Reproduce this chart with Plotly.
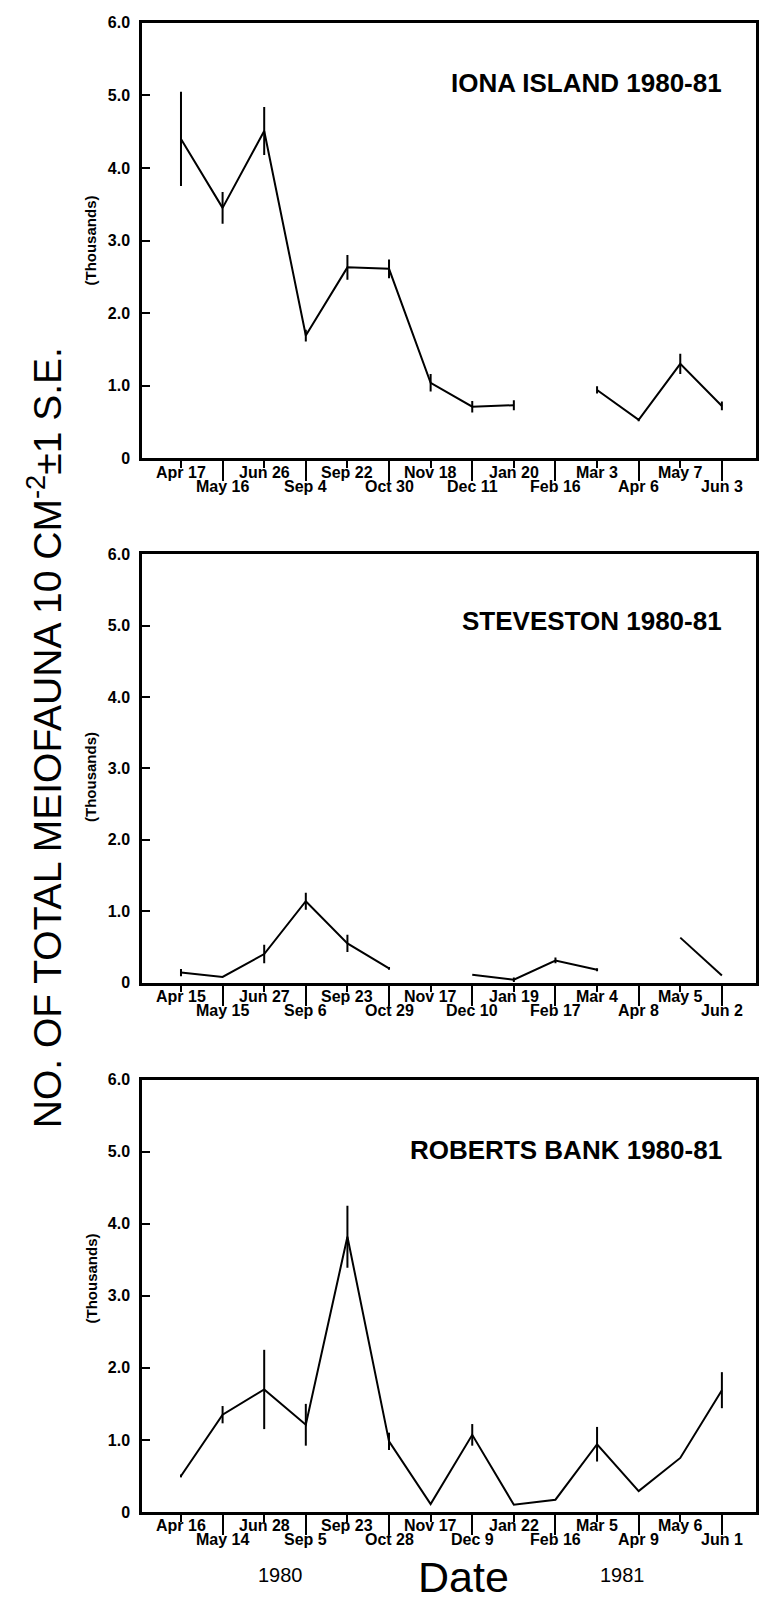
import plotly.graph_objects as go

# ---------------- data ----------------
dates_iona = ["Apr 17", "May 16", "Jun 26", "Sep 4", "Sep 22", "Oct 30", "Nov 18",
              "Dec 11", "Jan 20", "Feb 16", "Mar 3", "Apr 6", "May 7", "Jun 3"]
iona = [4.40, 3.45, 4.51, 1.69, 2.63, 2.61, 1.04, 0.71, 0.73, None, 0.94, 0.53, 1.30, 0.72]
iona_se = [0.65, 0.22, 0.33, 0.08, 0.17, 0.13, 0.12, 0.08, 0.07, 0, 0.05, 0.02, 0.14, 0.06]

dates_stev = ["Apr 15", "May 15", "Jun 27", "Sep 6", "Sep 23", "Oct 29", "Nov 17",
              "Dec 10", "Jan 19", "Feb 17", "Mar 4", "Apr 8", "May 5", "Jun 2"]
stev = [0.14, 0.08, 0.40, 1.14, 0.55, 0.20, None, 0.11, 0.04, 0.31, 0.18, None, 0.63, 0.10]
stev_se = [0.05, 0, 0.13, 0.12, 0.12, 0.02, 0, 0, 0.03, 0.04, 0.02, 0, 0, 0]

dates_rob = ["Apr 16", "May 14", "Jun 28", "Sep 5", "Sep 23", "Oct 28", "Nov 17",
             "Dec 9", "Jan 22", "Feb 16", "Mar 5", "Apr 9", "May 6", "Jun 1"]
rob = [0.50, 1.35, 1.70, 1.21, 3.82, 0.98, 0.11, 1.07, 0.10, 0.17, 0.94, 0.29, 0.75, 1.69]
rob_se = [0.02, 0.12, 0.55, 0.29, 0.43, 0.12, 0, 0.15, 0, 0, 0.24, 0, 0, 0.25]

titles = ["IONA ISLAND 1980-81", "STEVESTON 1980-81", "ROBERTS BANK 1980-81"]
y_ticks = [0, 1, 2, 3, 4, 5, 6]
y_tick_text = ["0", "1.0", "2.0", "3.0", "4.0", "5.0", "6.0"]

panels = [(dates_iona, iona, iona_se), (dates_stev, stev, stev_se), (dates_rob, rob, rob_se)]

# ---------------- layout geometry ----------------
W, H = 759, 1612
FONT = "Liberation Sans, Arial, Helvetica, sans-serif"
x_dom = [142 / W, 756 / W]
x_range = [-0.937, 13.82]
panel_px = [(15, 455), (552, 985), (1083, 1520)]   # top, bottom in px
title_px = [76, 620, 1154]
thousands_pos = [0.5, 0.48, 0.54]
LBL = dict(family=FONT, size=16, color="black", weight=700)

fig = go.Figure()
annotations = []

for i, (dates, vals, se) in enumerate(panels):
    n = i + 1
    xa = "x" if n == 1 else f"x{n}"
    ya = "y" if n == 1 else f"y{n}"
    xo = f"x{n + 3}"          # overlay axis carrying the long ticks
    fig.add_trace(go.Scatter(
        x=dates, y=vals, mode="lines",
        line=dict(color="black", width=2),
        error_y=dict(type="data", array=se, visible=True, width=0,
                     thickness=2, color="black"),
        connectgaps=False, showlegend=False, xaxis=xa, yaxis=ya,
        hoverinfo="x+y"))
    # empty trace so the overlay axis is drawn
    fig.add_trace(go.Scatter(x=[0], y=[None], mode="lines", showlegend=False,
                             xaxis=xo, yaxis=ya, hoverinfo="skip"))

    top, bot = panel_px[i]
    xkey = "xaxis" if n == 1 else f"xaxis{n}"
    ykey = "yaxis" if n == 1 else f"yaxis{n}"
    okey = f"xaxis{n + 3}"
    fig.layout[xkey] = dict(
        domain=x_dom, anchor=ya, type="category",
        categoryorder="array", categoryarray=dates,
        range=x_range,
        tickmode="array", tickvals=dates, showticklabels=False,
        ticks="outside", ticklen=7, tickwidth=2, tickcolor="black",
        showline=True, mirror=True, linewidth=2.5, linecolor="black",
        showgrid=False, zeroline=False)
    fig.layout[okey] = dict(
        overlaying=xa, anchor=ya, side="bottom", type="linear",
        range=x_range,
        tickmode="array", tickvals=[k for k in range(len(dates)) if k % 2 == 1],
        showticklabels=False, ticks="outside", ticklen=22, tickwidth=2,
        tickcolor="black", showline=False, showgrid=False, zeroline=False)
    fig.layout[ykey] = dict(
        domain=[1 - bot / H, 1 - top / H], anchor=xa,
        range=[0, 6], tickmode="array", tickvals=y_ticks, ticktext=y_tick_text,
        ticks="inside", ticklen=8, tickwidth=2, tickcolor="black",
        showline=True, mirror=True, linewidth=2.5, linecolor="black",
        showgrid=False, zeroline=False, ticklabelstandoff=6,
        tickfont=dict(family=FONT, size=16, color="black", weight=700))

    yref_dom = f"{ya} domain"
    # date labels in two staggered rows
    for k, d in enumerate(dates):
        annotations.append(dict(x=d, xref=xa, y=0, yref=yref_dom,
                                yshift=(-14 if k % 2 == 0 else -28), text=d,
                                showarrow=False, yanchor="middle", xanchor="center",
                                font=LBL))
    # panel title
    annotations.append(dict(x=724 / W, xref="paper", y=1 - title_px[i] / H, yref="paper",
                            text=titles[i], showarrow=False, xanchor="right", yanchor="middle",
                            font=dict(family=FONT, size=26, color="black", weight=700)))
    # (Thousands)
    annotations.append(dict(x=91 / W, xref="paper", y=thousands_pos[i], yref=yref_dom,
                            text="(Thousands)", showarrow=False, textangle=-90,
                            xanchor="center", yanchor="middle",
                            font=dict(family=FONT, size=15, color="black", weight=700)))

# overall y title
annotations.append(dict(x=44 / W, xref="paper", y=1 - 738 / H, yref="paper",
                        text="NO. OF TOTAL MEIOFAUNA 10 CM<sup>-2</sup>±1 S.E.",
                        showarrow=False, textangle=-90, xanchor="center", yanchor="middle",
                        font=dict(family=FONT, size=39, color="black")))
# bottom labels
annotations.append(dict(x=280 / W, xref="paper", y=1 - 1584 / H, yref="paper", text="1980",
                        showarrow=False, xanchor="center", yanchor="middle",
                        font=dict(family=FONT, size=20, color="black")))
annotations.append(dict(x=622 / W, xref="paper", y=1 - 1584 / H, yref="paper", text="1981",
                        showarrow=False, xanchor="center", yanchor="middle",
                        font=dict(family=FONT, size=20, color="black")))
annotations.append(dict(x=463 / W, xref="paper", y=0, yref="paper", text="Date",
                        showarrow=False, xanchor="center", yanchor="bottom",
                        font=dict(family=FONT, size=43, color="black")))

fig.update_layout(width=W, height=H, margin=dict(l=0, r=0, t=0, b=0),
                  paper_bgcolor="white", plot_bgcolor="white",
                  annotations=annotations, showlegend=False)

fig.write_html("out.html")
